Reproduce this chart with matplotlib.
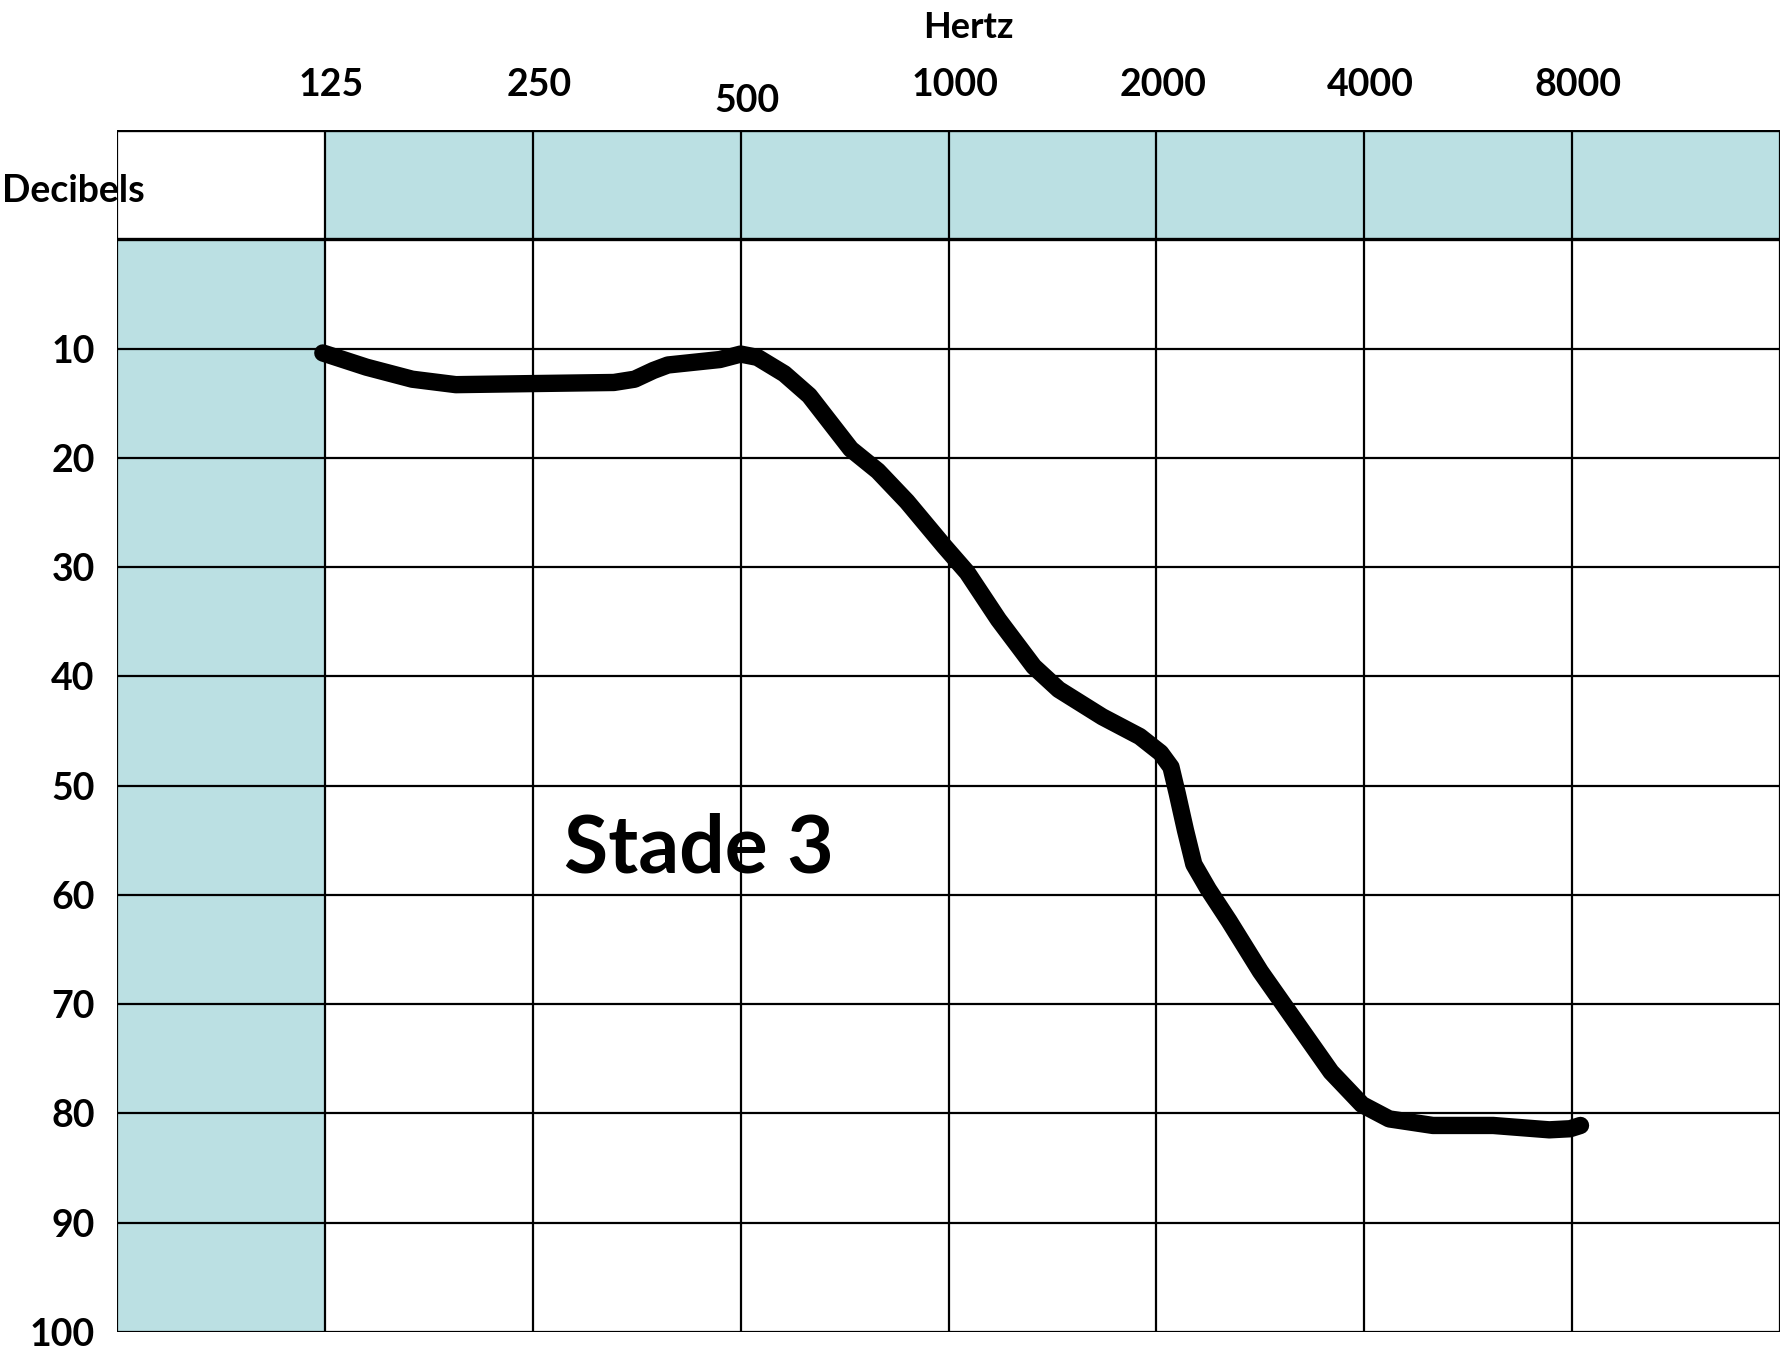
import numpy as np
import matplotlib.pyplot as plt
from matplotlib.transforms import ScaledTranslation

# === Data ===
freq_labels = ["125", "250", "500", "1000", "2000", "4000", "8000"]
db_ticks = [10, 20, 30, 40, 50, 60, 70, 80, 90, 100]

# hand-drawn curve (x in column units, y in dB)
curve_x = [0.99, 1.20, 1.42, 1.63, 2.00, 2.39, 2.49, 2.58, 2.65, 2.90, 3.00, 3.08,
           3.21, 3.33, 3.53, 3.66, 3.80, 3.98, 4.09, 4.24, 4.41, 4.53, 4.74, 4.92,
           5.02, 5.07, 5.10, 5.14, 5.18, 5.25, 5.35, 5.50, 5.67, 5.84, 5.99, 6.12,
           6.33, 6.62, 6.89, 6.99, 7.04]
curve_db = [10.4, 11.7, 12.8, 13.3, 13.2, 13.1, 12.8, 12.0, 11.5, 11.0, 10.5, 10.8,
            12.3, 14.3, 19.2, 21.2, 24.0, 28.1, 30.5, 34.8, 39.1, 41.2, 43.7, 45.5,
            47.0, 48.3, 50.7, 54.1, 57.2, 59.5, 62.4, 67.0, 71.6, 76.2, 79.2, 80.5,
            81.1, 81.1, 81.5, 81.4, 81.1]

stage_text = "Stade 3"

# === Style ===
blue = "#BBE0E3"
plt.rcParams['font.family'] = ['Lato', 'DejaVu Sans']

fig = plt.figure(figsize=(17.87, 13.55), dpi=100)
ax = fig.add_axes([0.0655, 0.017, 0.9306, 0.887])
ax.set_xlim(0, 8)
ax.set_ylim(100, -10)

# shaded header row and left column
ax.axvspan(1, 8, ymin=100 / 110, ymax=1, color=blue, lw=0, zorder=0)
ax.axvspan(0, 1, ymin=0, ymax=100 / 110, color=blue, lw=0, zorder=0)

# grid
ax.vlines(np.arange(0, 9), -10, 100, color="black", lw=1.6, zorder=1)
ax.hlines(np.arange(10, 101, 10), 0, 8, color="black", lw=1.6, zorder=1)
ax.hlines([-10, 0], 0, 8, color="black", lw=2.4, zorder=1)
for s in ax.spines.values():
    s.set_visible(False)

# curve
ax.plot(curve_x, curve_db, color="black", lw=12.5, solid_capstyle="round",
        solid_joinstyle="round", zorder=3)

ax.text(2.15, 55.8, stage_text, fontsize=58, fontweight="bold", ha="left",
        va="center", zorder=4)

# y ticks
ax.set_yticks(db_ticks)
ax.set_yticklabels([str(v) for v in db_ticks])
ax.tick_params(axis="y", length=0, pad=16, labelsize=27)
for t in ax.get_yticklabels():
    t.set_fontweight("bold")

# x ticks on top
ax.xaxis.tick_top()
ax.set_xticks(np.arange(1, 8) + 0.03)
ax.set_xticklabels(freq_labels)
ax.tick_params(axis="x", length=0, pad=20, labelsize=27)
for t in ax.get_xticklabels():
    t.set_fontweight("bold")
    if t.get_text() == "500":
        t.set_transform(t.get_transform() + ScaledTranslation(0, -16 / 100, fig.dpi_scale_trans))

fig.text(0.542, 0.980, "Hertz", fontsize=26, fontweight="bold", ha="center", va="center")
fig.text(0.001, 0.859, "Decibels", fontsize=27, fontweight="bold", ha="left", va="center")

fig.savefig("out.png", dpi=100)
